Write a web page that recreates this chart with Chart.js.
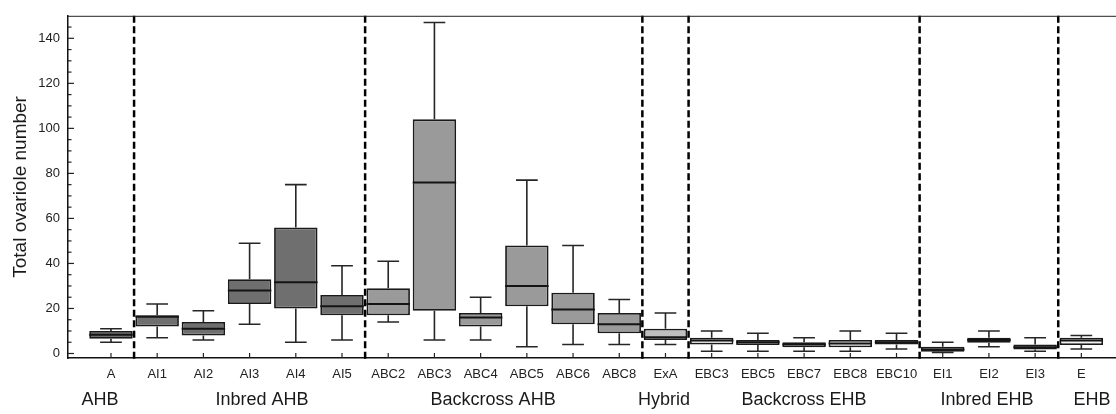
<!DOCTYPE html>
<html>
<head>
<meta charset="utf-8">
<script src="https://cdn.jsdelivr.net/npm/chart.js@4/dist/chart.umd.min.js"></script>
<style>
  html, body { margin: 0; padding: 0; background: #ffffff; }
  #wrap { width: 1116px; height: 414px; position: relative; }
</style>
</head>
<body>
<div id="wrap"><canvas id="c"></canvas></div>
<script>
// ---- data ----
const categories = ['A','AI1','AI2','AI3','AI4','AI5','ABC2','ABC3','ABC4','ABC5','ABC6','ABC8','ExA','EBC3','EBC5','EBC7','EBC8','EBC10','EI1','EI2','EI3','E'];
const whiskerLow  = [5, 7, 6, 13, 5, 6, 14, 6, 6, 3, 4, 4, 4, 1, 1, 1, 1, 2, 0.5, 3, 1, 2];
const q1          = [6.5, 12, 8, 22, 20, 17, 17, 19, 12, 21, 13, 9, 6, 4, 3.8, 2.8, 2.8, 4, 0.8, 4.8, 1.8, 3.8];
const median      = [8.3, 16.3, 11, 28, 31.6, 21, 22, 76, 16, 30, 19.5, 13, 7.2, 5.8, 5, 4, 4.4, 5, 1.8, 6, 2.8, 5.8];
const q3          = [10, 17, 14, 33, 56, 26, 29, 104, 18, 48, 27, 18, 11, 7, 6, 5, 6, 6, 3, 7, 4, 7];
const whiskerHigh = [11, 22, 19, 49, 75, 39, 41, 147, 25, 77, 48, 24, 18, 10, 9, 7, 10, 9, 5, 10, 7, 8];

const groups     = ['AHB','Inbred AHB','Backcross AHB','Hybrid','Backcross EHB','Inbred EHB','EHB'];
const groupSizes = [1, 5, 6, 1, 5, 3, 1];
const yTicks     = [0, 20, 40, 60, 80, 100, 120, 140];

// ---- styling / layout (not data) ----
const groupFill   = ['#6f6f6f','#6f6f6f','#9a9a9a','#bfbfbf','#e4e4e4','#8f8f8f','#f2f2f2'];
const groupLabelX = [-0.24, 3.27, 8.27, 11.97, 15.0, 18.96, 21.23];
const FONT = '"Liberation Sans", Arial, Helvetica, sans-serif';

const groupOf = [];
groupSizes.forEach((n, g) => { for (let k = 0; k < n; k++) groupOf.push(g); });
const separators = [];
{ let s = 0; groupSizes.slice(0, -1).forEach(n => { s += n; separators.push(s - 0.5); }); }

const boxData = categories.map((c, i) => ({ x: i, y: [q1[i], q3[i]] }));

const extras = {
  id: 'extras',
  afterDatasetsDraw(chart) {
    const ctx = chart.ctx, xs = chart.scales.x, ys = chart.scales.y, area = chart.chartArea;
    const meta = chart.getDatasetMeta(0);
    ctx.save();
    // whiskers and medians
    categories.forEach((c, i) => {
      const el = meta.data[i];
      const w = el.width;
      const cx = xs.getPixelForValue(i);
      const capHalf = w / 4;
      const yHi = ys.getPixelForValue(whiskerHigh[i]);
      const yLo = ys.getPixelForValue(whiskerLow[i]);
      const yQ1 = ys.getPixelForValue(q1[i]);
      const yQ3 = ys.getPixelForValue(q3[i]);
      const yMed = ys.getPixelForValue(median[i]);
      ctx.strokeStyle = '#262626';
      ctx.lineWidth = 1.6;
      ctx.beginPath();
      ctx.moveTo(cx, yQ3); ctx.lineTo(cx, yHi);
      ctx.moveTo(cx - capHalf, yHi); ctx.lineTo(cx + capHalf, yHi);
      ctx.moveTo(cx, yQ1); ctx.lineTo(cx, yLo);
      ctx.moveTo(cx - capHalf, yLo); ctx.lineTo(cx + capHalf, yLo);
      ctx.stroke();
      ctx.strokeStyle = '#141414';
      ctx.lineWidth = 2;
      ctx.beginPath();
      ctx.moveTo(cx - w / 2, yMed); ctx.lineTo(cx + w / 2, yMed);
      ctx.stroke();
    });
    // dashed group separators
    ctx.strokeStyle = '#000';
    ctx.lineWidth = 2.5;
    ctx.setLineDash([7, 3.5]);
    separators.forEach(s => {
      const x = xs.getPixelForValue(s);
      ctx.beginPath();
      ctx.moveTo(x, area.top);
      ctx.lineTo(x, area.bottom + 3);
      ctx.stroke();
    });
    ctx.setLineDash([]);
    // top frame line
    ctx.strokeStyle = '#222';
    ctx.lineWidth = 1;
    ctx.beginPath();
    ctx.moveTo(area.left, area.top + 0.5);
    ctx.lineTo(area.right, area.top + 0.5);
    ctx.stroke();
    // inner y ticks (major every 20, minor every 5)
    ctx.strokeStyle = '#222';
    ctx.lineWidth = 1.2;
    for (let v = 0; v <= ys.max; v += 5) {
      const y = ys.getPixelForValue(v);
      if (y < area.top + 2) break;
      const len = (v % 20 === 0) ? 6 : 3.5;
      ctx.beginPath();
      ctx.moveTo(area.left, y);
      ctx.lineTo(area.left + len, y);
      ctx.stroke();
    }
    // inner x ticks
    categories.forEach((c, i) => {
      const x = xs.getPixelForValue(i);
      ctx.beginPath();
      ctx.moveTo(x, area.bottom);
      ctx.lineTo(x, area.bottom - 5);
      ctx.stroke();
    });
    // group labels
    ctx.fillStyle = '#1a1a1a';
    ctx.font = '18px ' + FONT;
    ctx.textAlign = 'center';
    ctx.textBaseline = 'middle';
    groups.forEach((g, k) => {
      ctx.fillText(g, xs.getPixelForValue(groupLabelX[k]), 400);
    });
    ctx.restore();
  }
};

new Chart(document.getElementById('c'), {
  type: 'bar',
  data: {
    datasets: [{
      data: boxData,
      backgroundColor: categories.map((c, i) => groupFill[groupOf[i]]),
      borderColor: '#1a1a1a',
      borderWidth: 1.8,
      borderSkipped: false,
      categoryPercentage: 1,
      barPercentage: 0.94
    }]
  },
  options: {
    responsive: true,
    maintainAspectRatio: false,
    animation: false,
    layout: { padding: { top: 5, right: 0, left: 0, bottom: 0 } },
    plugins: { legend: { display: false }, tooltip: { enabled: false } },
    scales: {
      x: {
        type: 'linear',
        min: -0.93,
        max: 21.75,
        offset: false,
        grid: { display: false, drawTicks: false },
        border: { display: true, color: '#111', width: 1.5 },
        afterBuildTicks: (scale) => { scale.ticks = categories.map((c, i) => ({ value: i })); },
        afterFit: (scale) => { scale.height = 56; },
        ticks: {
          autoSkip: false,
          maxRotation: 0,
          minRotation: 0,
          padding: 9,
          color: '#222',
          font: { family: FONT, size: 13 },
          callback: (v) => categories[v] ?? ''
        }
      },
      y: {
        type: 'linear',
        min: -2,
        max: 150,
        grid: { display: false, drawTicks: false },
        border: { display: true, color: '#111', width: 1.5 },
        afterBuildTicks: (scale) => { scale.ticks = yTicks.map(v => ({ value: v })); },
        afterFit: (scale) => { scale.width = 68; },
        title: {
          display: true,
          text: 'Total ovariole number',
          color: '#1a1a1a',
          font: { family: FONT, size: 19 },
          padding: { top: 9, bottom: 0 }
        },
        ticks: {
          padding: 8,
          color: '#222',
          font: { family: FONT, size: 13 }
        }
      }
    }
  },
  plugins: [extras]
});
</script>
</body>
</html>
